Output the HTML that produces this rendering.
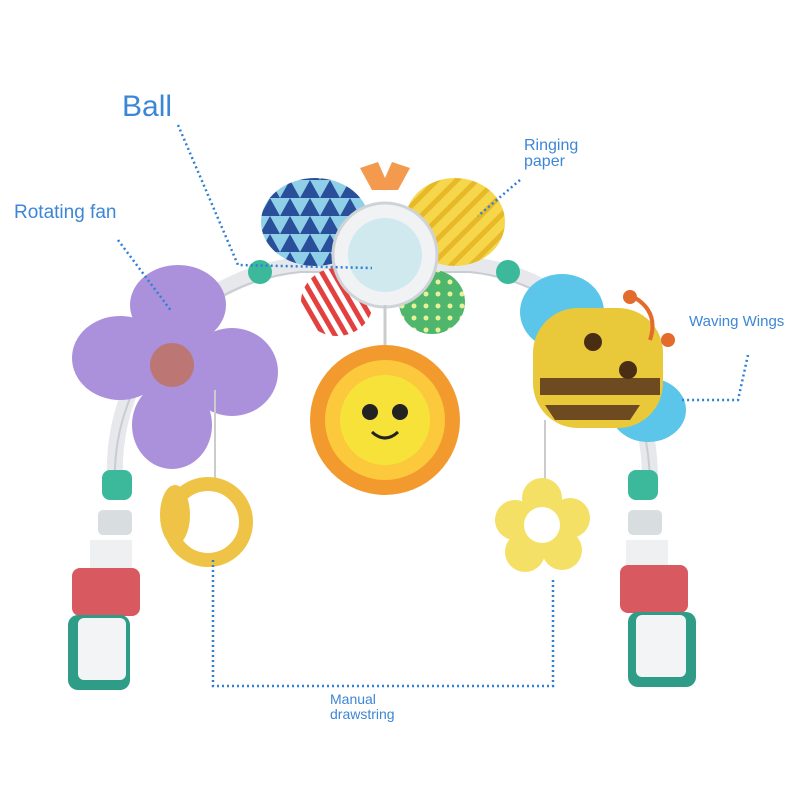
<!DOCTYPE html>
<html><head><meta charset="utf-8"><style>
html,body{margin:0;padding:0;background:#fff;width:800px;height:800px;overflow:hidden}
svg{display:block}
text{font-family:"Liberation Sans",sans-serif;fill:#3d86d6}
</style></head><body>
<svg width="800" height="800" viewBox="0 0 800 800" xmlns="http://www.w3.org/2000/svg">
<defs>
<pattern id="tri" width="20" height="18" patternUnits="userSpaceOnUse">
<rect width="20" height="18" fill="#8fd0e8"/>
<polygon points="0,18 10,0 20,18" fill="#2a4f9a"/>
</pattern>
<pattern id="ystr" width="14" height="14" patternUnits="userSpaceOnUse" patternTransform="rotate(45)">
<rect width="14" height="14" fill="#f6d64a"/><rect width="5" height="14" fill="#e7b928"/>
</pattern>
<pattern id="rstr" width="10" height="10" patternUnits="userSpaceOnUse" patternTransform="rotate(-30)">
<rect width="10" height="10" fill="#fff"/><rect width="5" height="10" fill="#e2413f"/>
</pattern>
<pattern id="gdot" width="12" height="12" patternUnits="userSpaceOnUse">
<rect width="12" height="12" fill="#4fb66d"/><circle cx="6" cy="6" r="2.5" fill="#e8f09a"/>
</pattern>
</defs>
<!-- arch -->
<path d="M115,480 C110,360 200,275 300,265 L470,265 C570,275 650,360 650,480" fill="none" stroke="#e6e8ec" stroke-width="16"/>
<path d="M115,480 C110,360 200,275 300,265 L470,265 C570,275 650,360 650,480" fill="none" stroke="#c9ccd2" stroke-width="2" transform="translate(0,7)"/>
<!-- legs -->
<g>
<rect x="102" y="470" width="30" height="30" rx="8" fill="#3cb89b"/>
<rect x="98" y="510" width="34" height="25" rx="5" fill="#d8dde0"/>
<rect x="90" y="540" width="42" height="30" fill="#eef0f2"/>
<rect x="72" y="568" width="68" height="48" rx="8" fill="#d85a60"/>
<rect x="68" y="615" width="62" height="75" rx="10" fill="#2e9c86"/>
<rect x="78" y="618" width="48" height="62" rx="6" fill="#f2f4f5"/>
<rect x="628" y="470" width="30" height="30" rx="8" fill="#3cb89b"/>
<rect x="628" y="510" width="34" height="25" rx="5" fill="#d8dde0"/>
<rect x="626" y="540" width="42" height="30" fill="#eef0f2"/>
<rect x="620" y="565" width="68" height="48" rx="8" fill="#d85a60"/>
<rect x="628" y="612" width="68" height="75" rx="10" fill="#2e9c86"/>
<rect x="636" y="615" width="50" height="62" rx="6" fill="#f2f4f5"/>
</g>
<!-- connectors knobs -->
<circle cx="260" cy="272" r="12" fill="#3cb89b"/><circle cx="508" cy="272" r="12" fill="#3cb89b"/>
<!-- wings -->
<ellipse cx="315" cy="222" rx="54" ry="44" fill="url(#tri)"/>
<ellipse cx="455" cy="222" rx="50" ry="44" fill="url(#ystr)"/>
<ellipse cx="337" cy="302" rx="36" ry="34" fill="url(#rstr)"/>
<ellipse cx="432" cy="302" rx="33" ry="32" fill="url(#gdot)"/>
<path d="M372,190 L360,168 L378,162 L385,178 L392,162 L410,168 L398,190 Z" fill="#f39a4f"/>
<circle cx="385" cy="255" r="52" fill="#f1f2f4" stroke="#cfd3d8" stroke-width="3"/>
<circle cx="385" cy="255" r="37" fill="#cfe9ee"/>
<path d="M385,305 L385,345" stroke="#ccc" stroke-width="3"/>
<!-- fan -->
<g fill="#ab90dc">
<ellipse cx="178" cy="305" rx="48" ry="40"/>
<ellipse cx="120" cy="358" rx="48" ry="42"/>
<ellipse cx="232" cy="372" rx="46" ry="44"/>
<ellipse cx="172" cy="425" rx="40" ry="44"/>
<circle cx="175" cy="365" r="40"/>
</g>
<circle cx="172" cy="365" r="22" fill="#c0705a" opacity=".8"/>
<!-- sun -->
<circle cx="385" cy="420" r="75" fill="#f29a2e"/>
<circle cx="385" cy="420" r="60" fill="#fbc93b"/>
<circle cx="385" cy="420" r="45" fill="#f7e23a"/>
<circle cx="370" cy="412" r="8" fill="#222"/><circle cx="400" cy="412" r="8" fill="#222"/>
<path d="M372,432 Q385,444 398,432" fill="none" stroke="#222" stroke-width="3"/>
<!-- bee -->
<ellipse cx="562" cy="312" rx="42" ry="38" fill="#5cc6ea"/>
<ellipse cx="648" cy="410" rx="38" ry="32" fill="#5cc6ea"/>
<rect x="533" y="308" width="130" height="120" rx="45" fill="#e9c83a"/>
<path d="M540,378 L660,378 L660,395 L540,395 Z M545,405 L640,405 L630,420 L555,420Z" fill="#6e4a20"/>
<circle cx="593" cy="342" r="9" fill="#4a2e14"/><circle cx="628" cy="370" r="9" fill="#4a2e14"/>
<path d="M650,340 Q660,310 630,295" fill="none" stroke="#e36b2b" stroke-width="4"/>
<circle cx="630" cy="297" r="7" fill="#e36b2b"/><circle cx="668" cy="340" r="7" fill="#e36b2b"/>
<!-- strings -->
<path d="M215,390 L215,480 M545,420 L545,485" stroke="#ccc" stroke-width="2"/>
<!-- snail ring -->
<circle cx="208" cy="522" r="38" fill="none" stroke="#efc345" stroke-width="14"/>
<ellipse cx="175" cy="515" rx="15" ry="30" fill="#efc345"/>
<!-- flower teether -->
<g fill="#f4e064">
<circle cx="542" cy="498" r="20"/><circle cx="570" cy="518" r="20"/><circle cx="562" cy="550" r="20"/>
<circle cx="525" cy="552" r="20"/><circle cx="515" cy="520" r="20"/><circle cx="542" cy="525" r="28"/>
</g>
<circle cx="542" cy="525" r="18" fill="#fff"/>
<!-- dotted lines -->
<g fill="none" stroke="#2f7fd4" stroke-width="2.5" stroke-dasharray="2,3">
<path d="M178,125 L238,265 L372,268"/>
<path d="M118,240 L172,312"/>
<path d="M520,180 L478,216"/>
<path d="M748,355 L738,400 L680,400"/>
<path d="M213,560 L213,686 L553,686 L553,578"/>
</g>
<!-- labels -->
<text x="122" y="116" font-size="30">Ball</text>
<text x="14" y="218" font-size="19">Rotating fan</text>
<text x="524" y="150" font-size="16">Ringing</text>
<text x="524" y="166" font-size="16">paper</text>
<text x="689" y="326" font-size="15">Waving Wings</text>
<text x="330" y="704" font-size="14">Manual</text>
<text x="330" y="719" font-size="14">drawstring</text>
</svg>
</body></html>
